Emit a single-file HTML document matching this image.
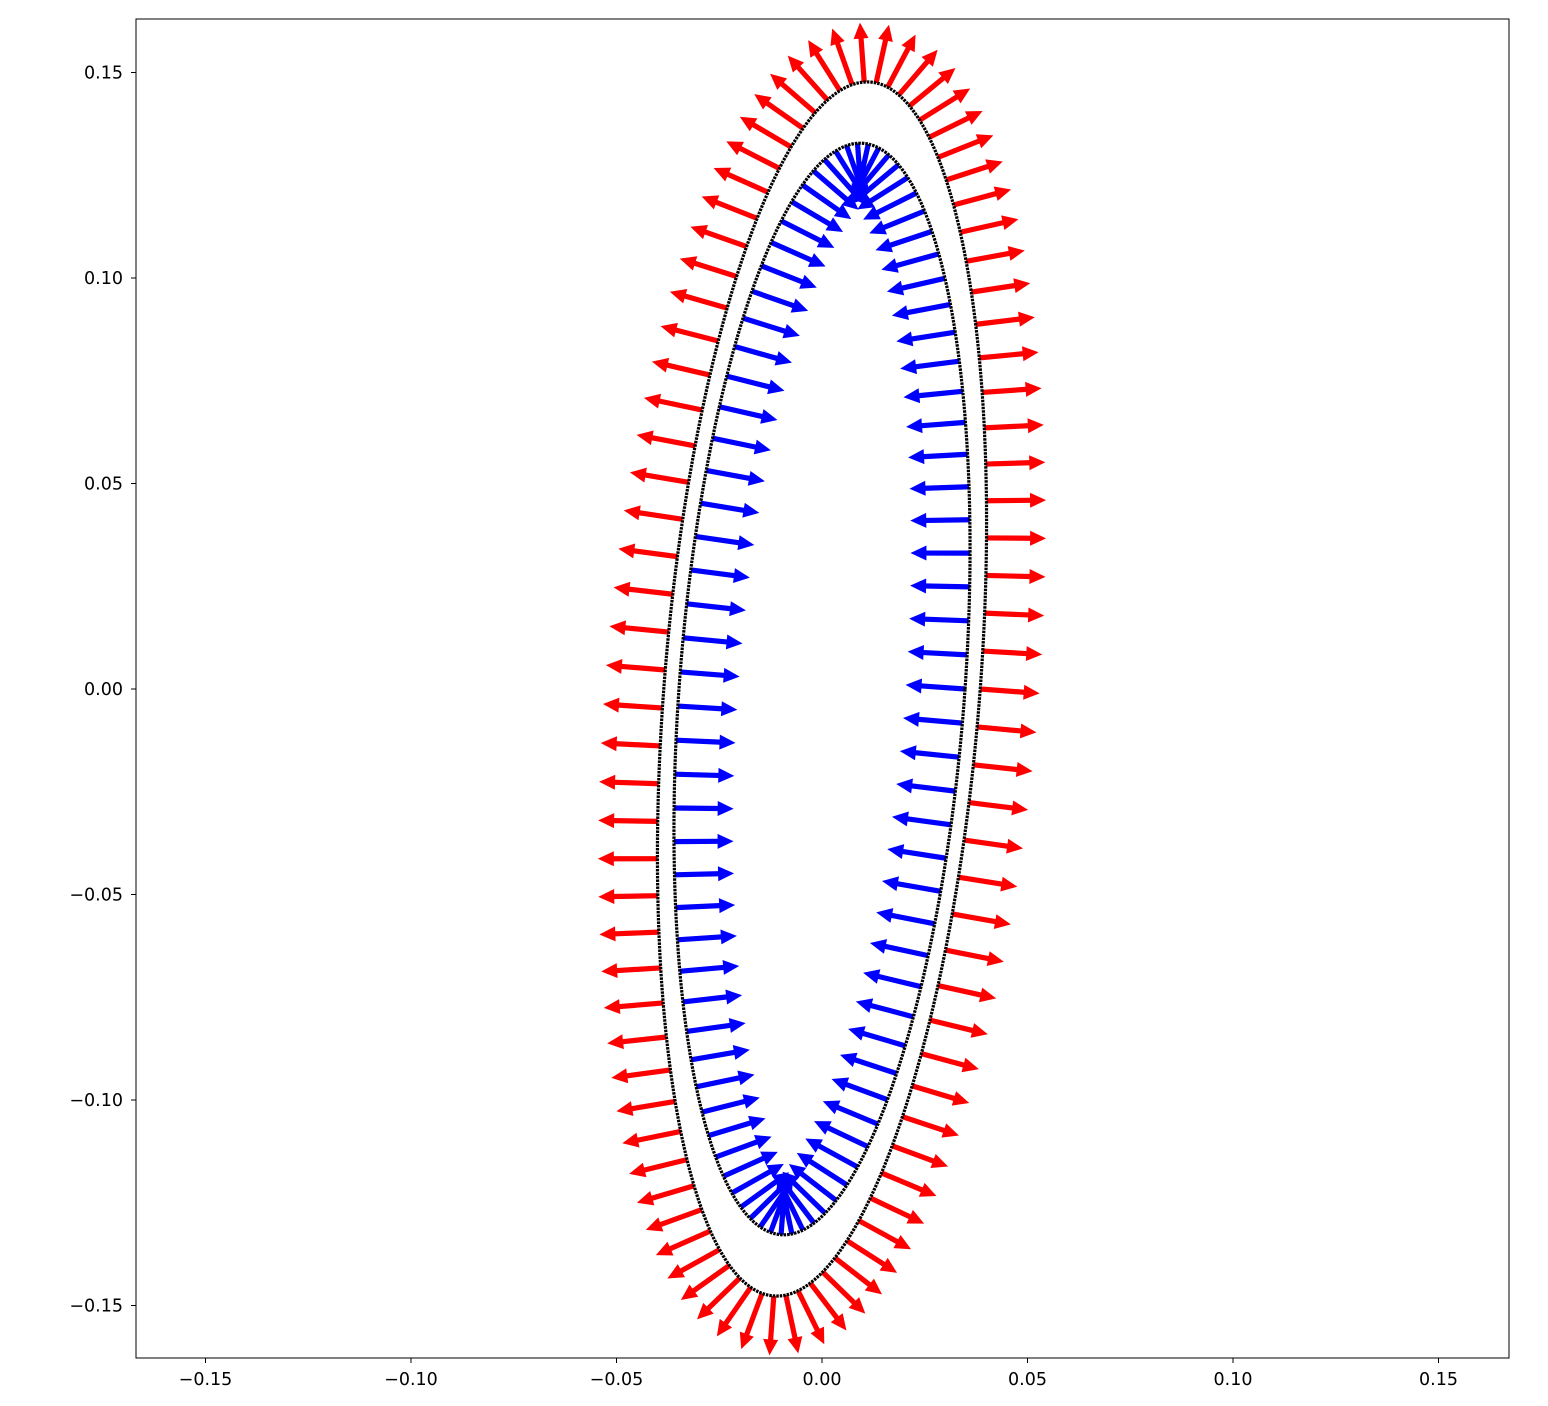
<!DOCTYPE html>
<html><head><meta charset="utf-8"><style>
html,body{margin:0;padding:0;background:#fff;}
svg{display:block;font-family:"DejaVu Sans","Liberation Sans",sans-serif;}
</style></head><body>
<svg id="chart" width="1548" height="1406" viewBox="0 0 1548 1406" xmlns="http://www.w3.org/2000/svg">
<defs><clipPath id="clip"><rect x="136" y="19" width="1373" height="1339"/></clipPath></defs>
<g id="marks" clip-path="url(#clip)"></g>
<rect x="136" y="19" width="1373" height="1339" fill="none" stroke="#000" stroke-width="1"/>
<g id="axes"></g>
</svg>
<script>
const xTicks = [-0.15, -0.10, -0.05, 0.00, 0.05, 0.10, 0.15];
const yTicks = [0.15, 0.10, 0.05, 0.00, -0.05, -0.10, -0.15];
const xTickLabels = ["\u22120.15","\u22120.10","\u22120.05","0.00","0.05","0.10","0.15"];
const yTickLabels = ["0.15","0.10","0.05","0.00","\u22120.05","\u22120.10","\u22120.15"];
// ellipse params [p, q, r]: x = p cos t + q sin t, y = r sin t
const outerEllipse = [0.0385, 0.011, 0.1477];
const innerEllipse = [0.0348, 0.0093, 0.1328];
const arrowCount = [91];
const arrowLength = [0.0145, 0.0145]; // red outward, blue inward (data units)

const X0=822, Y0=689, S=4110;
const sx = v => X0 + v*S;
const sy = v => Y0 - v*S;
const NS="http://www.w3.org/2000/svg";
const marks=document.getElementById('marks');
const axes=document.getElementById('axes');

function pt(e,t){return [e[0]*Math.cos(t)+e[1]*Math.sin(t), e[2]*Math.sin(t)];}
function nrm(e,t){
  const dx=-e[0]*Math.sin(t)+e[1]*Math.cos(t), dy=e[2]*Math.cos(t);
  const nx=dy, ny=-dx, L=Math.hypot(nx,ny); return [nx/L, ny/L];
}
function warp(s){return s-0.047*Math.sin(2*s);}

function curve(e,name){
  let d='';
  for(let i=0;i<=500;i++){const t=i/500*2*Math.PI;const p=pt(e,t);d+=(i?'L':'M')+sx(p[0]).toFixed(2)+','+sy(p[1]).toFixed(2);}
  const path=document.createElementNS(NS,'path');
  path.setAttribute('d',d+'Z');path.setAttribute('fill','none');path.setAttribute('stroke','#000');
  path.setAttribute('stroke-width','3.2');path.setAttribute('stroke-dasharray','2.5 1');
  
  
  marks.appendChild(path);
}
function arrow(x1,y1,x2,y2,color,name){
  const dx=x2-x1, dy=y2-y1, L=Math.hypot(dx,dy), ux=dx/L, uy=dy/L, vx=-uy, vy=ux;
  const hl=16, hw=7.5, sw=2.6;
  const bx=x2-ux*hl, by=y2-uy*hl;
  const pts=[[x1+vx*sw,y1+vy*sw],[bx+vx*sw,by+vy*sw],[bx+vx*hw,by+vy*hw],[x2,y2],[bx-vx*hw,by-vy*hw],[bx-vx*sw,by-vy*sw],[x1-vx*sw,y1-vy*sw]];
  const poly=document.createElementNS(NS,'polygon');
  poly.setAttribute('points',pts.map(p=>p[0].toFixed(2)+','+p[1].toFixed(2)).join(' '));
  poly.setAttribute('fill',color);
  
  
  marks.appendChild(poly);
}
const N=arrowCount[0];
for(let i=0;i<N;i++){
  const t=warp(i/N*2*Math.PI);
  const p=pt(outerEllipse,t), n=nrm(outerEllipse,t);
  arrow(sx(p[0]),sy(p[1]),sx(p[0]+n[0]*arrowLength[0]),sy(p[1]+n[1]*arrowLength[0]),'#ff0000','outward-arrow');
}
for(let i=0;i<N;i++){
  const t=warp(i/N*2*Math.PI);
  const p=pt(innerEllipse,t), n=nrm(innerEllipse,t);
  arrow(sx(p[0]),sy(p[1]),sx(p[0]-n[0]*arrowLength[1]),sy(p[1]-n[1]*arrowLength[1]),'#0000ff','inward-arrow');
}
curve(outerEllipse,'outer-boundary');
curve(innerEllipse,'inner-boundary');

xTicks.forEach((v,i)=>{
  const x=sx(v);
  const l=document.createElementNS(NS,'line');
  l.setAttribute('x1',x);l.setAttribute('x2',x);l.setAttribute('y1',1358);l.setAttribute('y2',1363);l.setAttribute('stroke','#000');
  
  
  axes.appendChild(l);
  const t=document.createElementNS(NS,'text');
  t.setAttribute('x',x);t.setAttribute('y',1385);t.setAttribute('text-anchor','middle');t.setAttribute('font-size','17.5');
  t.textContent=xTickLabels[i];
  
  
  axes.appendChild(t);
});
yTicks.forEach((v,i)=>{
  const y=sy(v);
  const l=document.createElementNS(NS,'line');
  l.setAttribute('x1',131);l.setAttribute('x2',136);l.setAttribute('y1',y);l.setAttribute('y2',y);l.setAttribute('stroke','#000');
  
  
  axes.appendChild(l);
  const t=document.createElementNS(NS,'text');
  t.setAttribute('x',123);t.setAttribute('y',y+6);t.setAttribute('text-anchor','end');t.setAttribute('font-size','17.5');
  t.textContent=yTickLabels[i];
  
  
  axes.appendChild(t);
});
</script>
</body></html>
